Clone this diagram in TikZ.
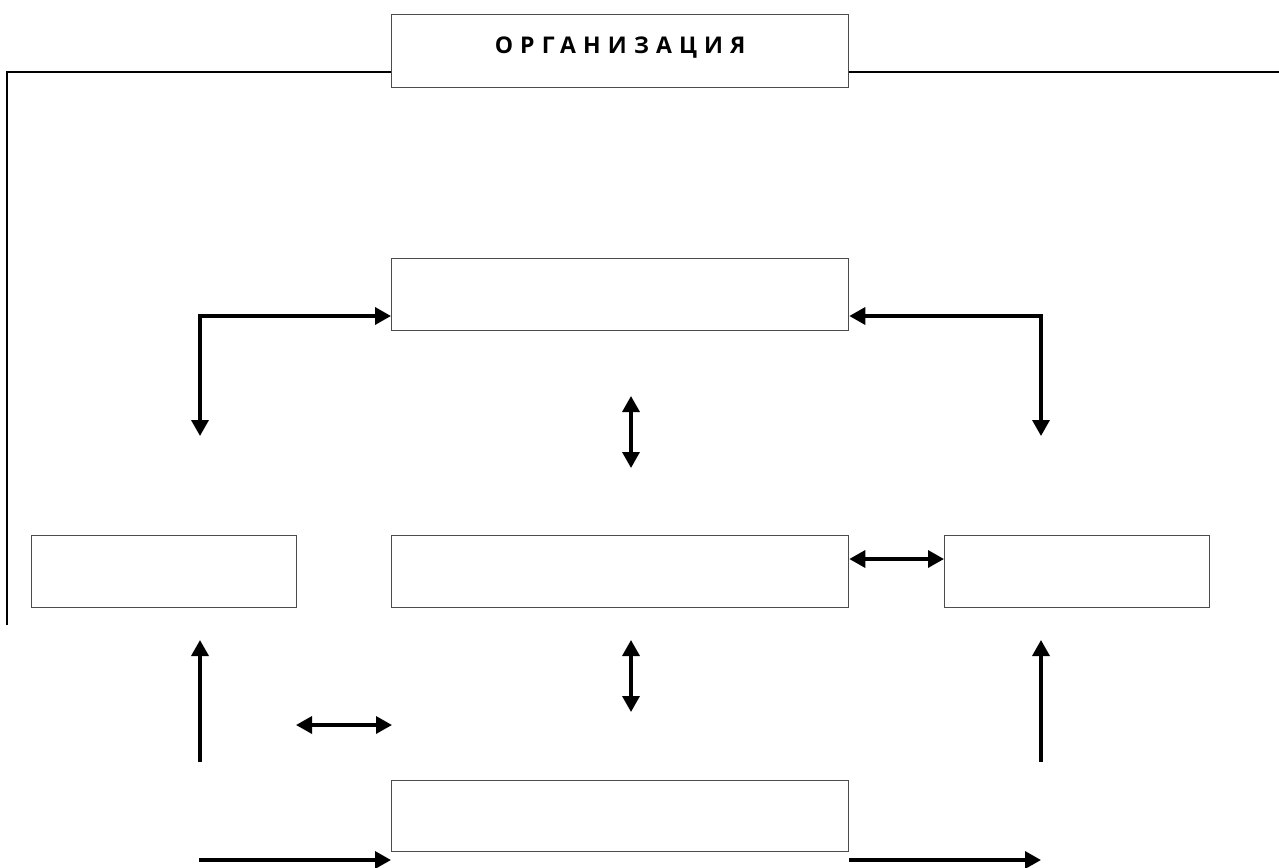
\documentclass[tikz,border=0pt]{standalone}
\usepackage{fontspec}
\setmainfont{Open Sans}
\usetikzlibrary{arrows.meta}
\begin{document}
\begin{tikzpicture}[x=1pt,y=-1pt,
  box/.style={draw=black!70,line width=1.3pt,fill=white,inner sep=0pt},
  arr/.style={line width=3.4pt,-{Triangle[width=17pt,length=16pt]}},
  darr/.style={line width=3.4pt,{Triangle[width=17pt,length=16pt]}-{Triangle[width=17pt,length=16pt]}},
  frame/.style={line width=2.4pt}]
\useasboundingbox (0,0) rectangle (1279,867);
% boxes
\node[box,minimum width=457pt,minimum height=73pt,anchor=north west] (org) at (391,14)
  {\raisebox{11pt}{\bfseries\addfontfeature{LetterSpace=31}\fontsize{23}{26}\selectfont ОРГАНИЗАЦИЯ}};
\node[box,minimum width=457pt,minimum height=72pt,anchor=north west] (top) at (391,258) {};
\node[box,minimum width=457pt,minimum height=72pt,anchor=north west] (mid) at (391,535) {};
\node[box,minimum width=265pt,minimum height=72pt,anchor=north west] (lft) at (31,535) {};
\node[box,minimum width=265pt,minimum height=72pt,anchor=north west] (rgt) at (944,535) {};
\node[box,minimum width=457pt,minimum height=71pt,anchor=north west] (bot) at (391,780) {};
% frame line
\coordinate (fl) at (7,625);
\coordinate (fr) at (1279,72);
\draw[frame] (fl) |- (org.west |- 0,72);
\draw[frame] (org.east |- 0,72) -- (fr);
% top L arrows
\coordinate (tl) at (200,436);
\coordinate (tr) at (1041,436);
\draw[darr] (tl) |- (top.west |- 0,316);
\draw[darr] (tr) |- (top.east |- 0,316);
% vertical double arrows
\coordinate (v1a) at (631,396);
\coordinate (v1b) at (631,468);
\draw[darr] (v1a) -- (v1b);
\coordinate (v2a) at (631,640);
\coordinate (v2b) at (631,712);
\draw[darr] (v2a) -- (v2b);
% mid-right
\draw[darr] (mid.east |- 0,559) -- (rgt.west |- 0,559);
% up arrows
\coordinate (ula) at (200,762);
\coordinate (ulb) at (200,640);
\draw[arr] (ula) -- (ulb);
\coordinate (ura) at (1041,762);
\coordinate (urb) at (1041,640);
\draw[arr] (ura) -- (urb);
% small double arrow
\coordinate (sa) at (296,725);
\coordinate (sb) at (392,725);
\draw[darr] (sa) -- (sb);
% bottom arrows
\coordinate (bl) at (199,860);
\draw[arr] (bl) -- (bot.west |- 0,860);
\coordinate (br) at (1041,860);
\draw[arr] (bot.east |- 0,860) -- (br);
\end{tikzpicture}
\end{document}
